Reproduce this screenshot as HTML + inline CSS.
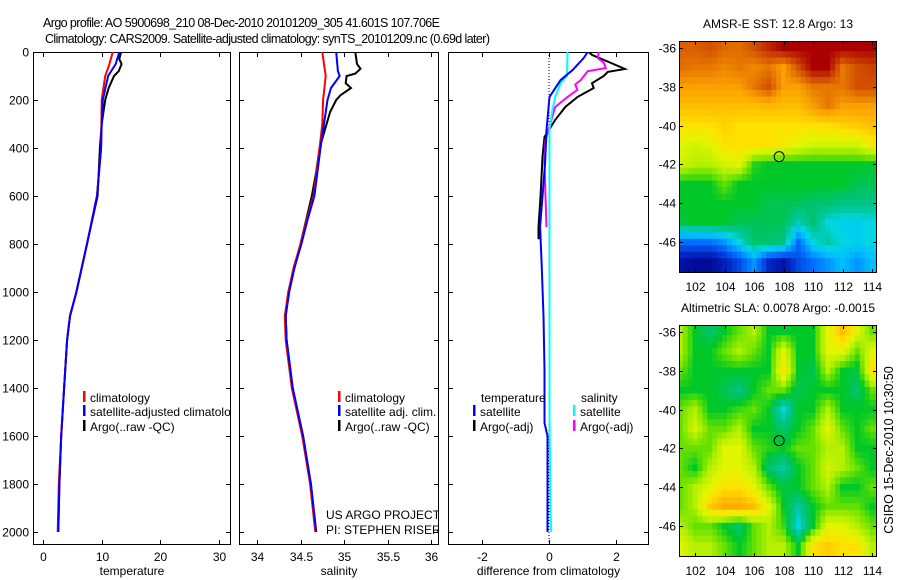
<!DOCTYPE html>
<html><head><meta charset="utf-8"><style>
html,body{margin:0;padding:0;background:#fff;}
svg{display:block;font-family:"Liberation Sans",sans-serif;}
text{fill:#000;}
</style></head><body>
<svg id="fig" width="900" height="580" viewBox="0 0 900 580" xmlns="http://www.w3.org/2000/svg">
<defs>
<clipPath id="cp1"><rect x="33" y="52" width="198" height="493"/></clipPath>
<clipPath id="cp2"><rect x="239" y="52" width="200" height="493"/></clipPath>
<clipPath id="cp3"><rect x="448" y="52" width="201" height="493"/></clipPath>
<clipPath id="cpm1"><rect x="679" y="41" width="198" height="232"/></clipPath>
<clipPath id="cpm2"><rect x="679" y="325" width="198" height="232"/></clipPath>
</defs>
<text x="43" y="27" font-size="12.5" textLength="397">Argo profile: AO 5900698_210 08-Dec-2010 20101209_305 41.601S 107.706E</text>
<text x="45" y="43" font-size="12.5" textLength="445">Climatology: CARS2009. Satellite-adjusted climatology: synTS_20101209.nc (0.69d later)</text>
<g id="layer"></g>
</svg>
<script>
// ---------- profile data ----------
const depthTicks = [0,200,400,600,800,1000,1200,1400,1600,1800,2000];
const tempTicks = [0,10,20,30];
const salTicks = [34,34.5,35,35.5,36];
const salTickLabels = ["34","34.5","35","35.5","36"];
const diffTicks = [-2,0,2];

const tempClimDepth = [0,60,100,200,400,600,800,1000,1100,1200,1400,1600,1800,2000];
const tempClim      = [11.9,11.2,10.6,10.0,9.9,9.2,7.5,5.7,4.6,4.1,3.6,3.1,2.7,2.5];
const tempSatDepth  = [0,50,100,200,300,400,600,800,1000,1100,1200,1400,1600,1800,2000];
const tempSat       = [13.0,12.4,11.1,10.2,10.0,9.9,9.2,7.5,5.7,4.6,4.1,3.6,3.1,2.8,2.6];
const tempArgoDepth = [0,30,50,80,100,150,200,300,400,600,800,1000,1100,1200,1400,1600,1800,2000];
const tempArgo      = [13.3,13.0,13.4,12.9,12.1,11.2,10.6,10.0,9.7,9.3,7.5,5.7,4.6,4.1,3.6,3.1,2.8,2.6];

const salClimDepth = [0,100,200,300,400,600,700,800,900,1000,1100,1200,1400,1600,1800,2000];
const salClim      = [34.75,34.79,34.76,34.75,34.72,34.65,34.57,34.5,34.42,34.36,34.32,34.33,34.4,34.52,34.61,34.67];
const salSatDepth  = [0,80,100,150,200,300,400,600,700,800,900,1000,1100,1200,1400,1600,1800,2000];
const salSat       = [34.91,34.93,34.95,34.85,34.81,34.77,34.73,34.66,34.58,34.51,34.43,34.37,34.33,34.34,34.41,34.53,34.62,34.68];
const salArgoDepth = [0,50,70,90,100,130,150,180,200,250,300,400,500,600,800,1000,1100,1200,1400,1600,1800,2000];
const salArgo      = [35.13,35.15,35.19,35.13,35.03,35.02,35.08,34.96,34.91,34.84,34.80,34.72,34.68,34.63,34.5,34.36,34.33,34.34,34.41,34.53,34.62,34.68];

const dTempSatDepth = [0,25,75,117,187,325,462,729,900,1100,1325,1545,1600,2000];
const dTempSat      = [1.17,1.05,0.72,0.36,0.03,-0.06,-0.1,-0.25,-0.2,-0.15,-0.12,-0.12,-0.03,-0.03];
const dTempArgoDepth= [0,12,46,71,83,100,130,150,187,229,283,354,437,604,729,780];
const dTempArgo     = [1.2,1.3,1.87,2.28,1.77,1.65,1.3,1.35,0.87,0.5,0.2,-0.12,-0.18,-0.24,-0.3,-0.3];
const dSalSatDepth  = [0,100,130,187,254,320,600,1000,1500,1900,2000];
const dSalSat       = [0.57,0.55,0.36,0.2,0.1,0.03,0.03,0.03,0.03,0.06,0.08];
const dSalArgoDepth = [0,25,45,67,80,117,135,158,187,229,296,367,462,600,729];
const dSalArgo      = [1.5,1.47,1.65,1.71,1.17,0.96,0.8,0.86,0.57,0.2,0.06,-0.09,-0.12,-0.09,-0.06];

// ---------- map data (colour index 0..10 on jet-like scale) ----------
const mapLats = [-36,-37,-38,-39,-40,-41,-42,-43,-44,-45,-46,-47];
const mapLons = [101,102,103,104,105,106,107,108,109,110,111,112,113,114];
const lonTicks = [102,104,106,108,110,112,114];
const latTicks = [-36,-38,-40,-42,-44,-46];
const sstGrid = [
[8.8,8.8,9,8.7,8.6,9,9.5,10,10,10,10,10,10,10],
[8.6,8.5,8.5,8.3,8.5,8.3,8.5,8,9,10,10,8.5,9,9.2],
[8,8,8,8,8,8.5,9,8,8,8.5,8.5,8.5,9,9],
[7.5,7.5,7.5,7.5,7.5,7.5,7.6,7.5,7.5,8,8.5,8,8,8],
[7,7,7,7.2,7,7,7,7,7,7,7,7.2,7.3,7.5],
[6.5,6.3,6.5,7,7,7,7,6.8,6.5,6.3,6.3,6.3,6.3,6.8],
[6.3,6,6,6.3,6.5,5.2,5,5,5,5,5,5,5,5],
[5,5,5,5.5,5,5,5,5,5,5,5,5,4.7,4.7],
[5,5,5,5,5,5,4.7,4.7,4.7,4.5,4.5,4.3,4.3,4.3],
[4.8,5,5,5,4.7,4.7,4.7,4.7,3.8,4.5,3.5,3.3,3.3,3.5],
[2,2,2,2.5,3.5,4.5,4.5,4.3,2,3.5,4,3.5,3.3,3.5],
[0.5,0.3,0.3,0.8,1.5,2.5,1,0.5,1.5,2,2.5,3,2.5,3]];
const slaGrid = [
[6,5,4.5,5,5.5,6,5,5,5,5,6.5,7.5,6.5,5.5],
[6,5,5,5.5,6,5.5,5,6.5,5,5,6.5,6.5,5.5,6.5],
[5.5,5,5,5,5,5,5,7,5,4.7,6,5,4.8,7],
[5,5,5,4.7,4.3,5,5.5,5.5,4.7,5,5,5,4.5,5.5],
[5.5,6,5,5,5.3,5.5,5,3.5,5,5,6,5,5,5],
[5.5,6.3,5.5,5.5,6,5,5,4.5,5,5.5,6.5,5.5,5,5.5],
[5.5,5.5,5.5,6.5,6.5,5.5,5.2,5,5.5,5.5,6,6,5,5],
[5.5,5,6,6.5,6.5,6,4.5,4,5,5.5,6.3,6,5.5,5],
[5.5,6,6.5,7,7,6.5,5.5,4.8,5,5.5,6,5,5,5.5],
[5.5,6,7.3,7.8,7.8,7.5,6.5,5,4,5,5.5,5.5,5.5,5],
[6,5.5,5.5,5,4.5,5.5,6,5.3,3.5,5,6.5,6.5,6,5.5],
[6.5,6,6,5.5,5,5.5,6,6,5,7,7.3,7,7,6]];
const argoLon = [107.706];
const argoLat = [-41.601];

// ---------- helpers ----------
const NS = "http://www.w3.org/2000/svg";
const layer = document.getElementById('layer');
function mk(tag, attrs, parent){ const e=document.createElementNS(NS,tag); for(const k in attrs) e.setAttribute(k,attrs[k]); (parent||layer).appendChild(e); return e; }
function lin(d0,d1,r0,r1){ return v => r0 + (v-d0)*(r1-r0)/(d1-d0); }

const yDepth = lin(0,2000,52,532);
const P = [
 {x0:33,w:198,x:lin(0,30,43,219),ticks:tempTicks,labels:tempTicks.map(String),title:"temperature",clip:"cp1",name:"temperature"},
 {x0:239,w:200,x:lin(34,36,257,431),ticks:salTicks,labels:salTickLabels,title:"salinity",clip:"cp2",name:"salinity"},
 {x0:448,w:201,x:lin(-3,3,448,649),ticks:diffTicks,labels:diffTicks.map(String),title:"difference from climatology",clip:"cp3",name:"difference"}
];
const pTop=52, pBot=545;

P.forEach((p,i)=>{
  const g = mk('g',{});
  
  
  const fr = mk('rect',{x:p.x0+0.5,y:pTop+0.5,width:p.w-1,height:pBot-pTop-1,fill:'none',stroke:'#000','stroke-width':1},g);
  
  
  depthTicks.forEach(d=>{
    const y=Math.round(yDepth(d))+0.5;
    mk('line',{x1:p.x0,x2:p.x0+5,y1:y,y2:y,stroke:'#000'},g);
    mk('line',{x1:p.x0+p.w-5,x2:p.x0+p.w,y1:y,y2:y,stroke:'#000'},g);
    if(i===0){
      const t=mk('text',{x:29,y:y+4,'font-size':12,'text-anchor':'end'},g);
      t.textContent=String(d);
      
      
    }
  });
  p.ticks.forEach((v,j)=>{
    const x=Math.round(p.x(v))+0.5;
    mk('line',{x1:x,x2:x,y1:pTop,y2:pTop+5,stroke:'#000'},g);
    mk('line',{x1:x,x2:x,y1:pBot-5,y2:pBot,stroke:'#000'},g);
    const t=mk('text',{x:x,y:561,'font-size':12,'text-anchor':'middle'},g);
    t.textContent=p.labels[j];
    
    
  });
  const at=mk('text',{x:p.x0+p.w/2,y:575,'font-size':12,'text-anchor':'middle'},g);
  at.textContent=p.title;
  
  
});

function series(pi, depths, vals, color, name){
  const p=P[pi];
  const pts = depths.map((d,k)=>p.x(vals[k]).toFixed(1)+','+yDepth(d).toFixed(1)).join(' ');
  const l=mk('polyline',{points:pts,fill:'none',stroke:color,'stroke-width':2,'clip-path':'url(#'+p.clip+')'});
  
  
}
const zl=mk('line',{x1:P[2].x(0)+0.5,x2:P[2].x(0)+0.5,y1:pTop,y2:pBot,stroke:'#000','stroke-dasharray':'1,2'});



series(0,tempArgoDepth,tempArgo,'#000','temp-argo-line');
series(0,tempClimDepth,tempClim,'#f00','temp-climatology-line');
series(0,tempSatDepth,tempSat,'#00f','temp-satellite-line');
series(1,salArgoDepth,salArgo,'#000','sal-argo-line');
series(1,salClimDepth,salClim,'#f00','sal-climatology-line');
series(1,salSatDepth,salSat,'#00f','sal-satellite-line');
series(2,dTempArgoDepth,dTempArgo,'#000','diff-temp-argo-line');
series(2,dSalArgoDepth,dSalArgo,'#f0f','diff-sal-argo-line');
series(2,dSalSatDepth,dSalSat,'#0ff','diff-sal-satellite-line');
series(2,dTempSatDepth,dTempSat,'#00f','diff-temp-satellite-line');

function legend(x, y, color, label, clip, name){
  if(color){ const s=mk('rect',{x:x,y:y-6,width:2.5,height:11,fill:color});   }
  const t=mk('text',{x:x+7,y:y+5,'font-size':12});
  if(clip) t.setAttribute('clip-path','url(#'+clip+')');
  t.textContent=label;
  
  
}
legend(83,397,'#f00','climatology','cp1','legend-climatology');
legend(83,411,'#00f','satellite-adjusted climatology','cp1','legend-satellite-adjusted');
legend(83,426,'#000','Argo(..raw -QC)','cp1','legend-argo');
legend(338,397,'#f00','climatology','cp2','legend2-climatology');
legend(338,411,'#00f','satellite adj. clim.','cp2','legend2-satellite');
legend(338,426,'#000','Argo(..raw -QC)','cp2','legend2-argo');
legend(474,397,null,'temperature',null,'legend3-temperature-heading');
legend(473,411,'#00f','satellite',null,'legend3-temp-satellite');
legend(473,426,'#000','Argo(-adj)',null,'legend3-temp-argo');
legend(574,397,null,'salinity',null,'legend3-salinity-heading');
legend(573,411,'#0ff','satellite',null,'legend3-sal-satellite');
legend(573,426,'#f0f','Argo(-adj)',null,'legend3-sal-argo');
legend(319,514,null,'US ARGO PROJECT','cp2','project-label');
legend(319,529,null,'PI: STEPHEN RISER','cp2','pi-label');

// ---------- maps ----------
const cmapStops = [[0,[0,0,130]],[1,[0,40,200]],[2,[0,110,255]],[3,[0,190,255]],[3.5,[0,215,225]],[4,[0,200,160]],[4.5,[0,195,110]],[5,[0,200,40]],[5.5,[100,225,0]],[6,[180,240,0]],[6.5,[225,245,0]],[7,[255,225,0]],[7.5,[255,190,0]],[8,[250,160,0]],[8.5,[230,120,0]],[9,[210,80,0]],[10,[170,0,0]]];
function cmap(v){
  for(let i=1;i<cmapStops.length;i++){
    if(v<=cmapStops[i][0]){
      const a=cmapStops[i-1][0], ca=cmapStops[i-1][1], b=cmapStops[i][0], cb=cmapStops[i][1];
      const t=Math.max(0,(v-a)/(b-a));
      return 'rgb('+ca.map((c,k)=>Math.round(c+(cb[k]-c)*t)).join(',')+')';
    }
  }
  return 'rgb(170,0,0)';
}
function sample(grid, r, c){
  // bilinear sample at fractional row/col
  const R=grid.length-1, C=grid[0].length-1;
  r=Math.max(0,Math.min(R,r)); c=Math.max(0,Math.min(C,c));
  const r0=Math.floor(r), c0=Math.floor(c), r1=Math.min(R,r0+1), c1=Math.min(C,c0+1);
  const fr=r-r0, fc=c-c0;
  return grid[r0][c0]*(1-fr)*(1-fc)+grid[r0][c1]*(1-fr)*fc+grid[r1][c0]*fr*(1-fc)+grid[r1][c1]*fr*fc;
}
function drawMap(y0, grid, clip, title, name){
  const xs=lin(102,114,695,872), ys=lin(-36,-46,y0+7,y0+201);
  const g=mk('g',{'clip-path':'url(#'+clip+')'});
  
  
  const sub=3, step=1/sub;
  for(let la=mapLats[0]+0.5; la>mapLats[mapLats.length-1]-0.5-1e-6; la-=step){
    for(let lo=mapLons[0]-0.5; lo<mapLons[mapLons.length-1]+0.5-1e-6; lo+=step){
      const cLat=la-step/2, cLon=lo+step/2;
      const r=(mapLats[0]-cLat), c=(cLon-mapLons[0]);
      const x1=xs(lo), x2=xs(lo+step), y1=ys(la), y2=ys(la-step);
      const cell=mk('rect',{x:x1.toFixed(2),y:y1.toFixed(2),width:(x2-x1+0.6).toFixed(2),height:(y2-y1+0.6).toFixed(2),fill:cmap(sample(grid,r,c))},g);
      
      
    }
  }
  const fr=mk('rect',{x:679.5,y:y0+0.5,width:197,height:231,fill:'none',stroke:'#000'});
  
  
  lonTicks.forEach(v=>{
    const x=Math.round(xs(v))+0.5;
    mk('line',{x1:x,x2:x,y1:y0,y2:y0+4,stroke:'#000'});
    mk('line',{x1:x,x2:x,y1:y0+228,y2:y0+232,stroke:'#000'});
    const t=mk('text',{x:x,y:y0+250,'font-size':12,'text-anchor':'middle'});
    t.textContent=String(v);
    
    
  });
  latTicks.forEach(v=>{
    const y=Math.round(ys(v))+0.5;
    mk('line',{x1:679,x2:683,y1:y,y2:y,stroke:'#000'});
    mk('line',{x1:873,x2:877,y1:y,y2:y,stroke:'#000'});
    const t=mk('text',{x:676,y:y+4,'font-size':12,'text-anchor':'end'});
    t.textContent=String(v);
    
    
  });
  const c=mk('circle',{cx:xs(argoLon[0]),cy:ys(argoLat[0]),r:5,fill:'none',stroke:'#000','stroke-width':1});
  
  
  const t=mk('text',{x:778,y:y0-13,'font-size':12,'text-anchor':'middle'});
  t.textContent=title;
  
  
}
drawMap(41, sstGrid, 'cpm1', 'AMSR-E SST: 12.8 Argo: 13', 'sst-map');
drawMap(325, slaGrid, 'cpm2', 'Altimetric SLA: 0.0078 Argo: -0.0015', 'sla-map');
const cs=mk('text',{x:0,y:0,'font-size':12.5,'text-anchor':'middle',transform:'translate(893,450) rotate(-90)'});
cs.textContent='CSIRO 15-Dec-2010 10:30:50';


</script>
</body></html>
